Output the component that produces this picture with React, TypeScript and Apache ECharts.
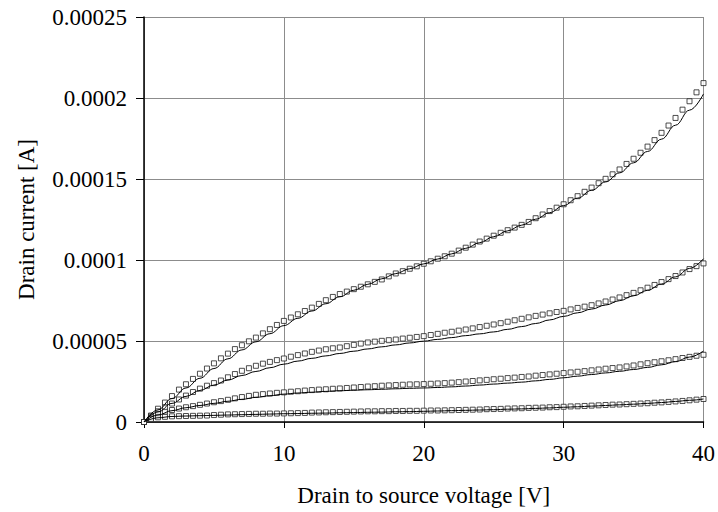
import React, { useEffect, useRef } from "react";
import * as echarts from "echarts";

// Drain-source voltage steps of the measured points [V]
const measuredVds = [
  0, 0.5, 1, 1.5, 2, 2.5, 3, 3.5, 4, 4.5, 5, 5.5, 6, 6.5, 7, 7.5, 8, 8.5, 9, 9.5,
  10, 10.5, 11, 11.5, 12, 12.5, 13, 13.5, 14, 14.5, 15, 15.5, 16, 16.5, 17, 17.5, 18, 18.5, 19, 19.5,
  20, 20.5, 21, 21.5, 22, 22.5, 23, 23.5, 24, 24.5, 25, 25.5, 26, 26.5, 27, 27.5, 28, 28.5, 29, 29.5,
  30, 30.5, 31, 31.5, 32, 32.5, 33, 33.5, 34, 34.5, 35, 35.5, 36, 36.5, 37, 37.5, 38, 38.5, 39, 39.5, 40,
];

// Measured drain currents [µA], highest curve first
const measured1 = [
  0, 4, 8.2, 12, 16, 20, 23.3, 26.6, 29.8, 33, 36.2, 39.3, 42.2, 45, 47.4, 49.8, 52.1, 54.7, 57.3, 59.9,
  62.4, 64.5, 66.5, 68.5, 70.6, 72.9, 75.2, 77.2, 79, 80.5, 82, 83.5, 85, 86.5, 88, 89.9, 91.7, 93.1, 94.6, 96.1,
  97.7, 99.2, 100.8, 102.3, 103.9, 105.8, 107.6, 109.5, 111.4, 113.2, 115, 116.8, 118.4, 120, 121.7, 123.5, 125.8, 128.1, 130.2, 132.3,
  134.4, 136.9, 139.4, 142.1, 144.7, 147.4, 150.1, 152.9, 155.9, 159.3, 162.5, 166.2, 170, 174, 178.5, 183, 187.7, 192.8, 198, 203.5, 209.2,
];
const measured2 = [
  0, 3.5, 6.6, 9, 11.4, 13.9, 16.3, 18.5, 20.6, 22.4, 24, 25.6, 27.6, 29.6, 31.6, 33.2, 34.7, 36, 37.1, 38.2,
  39.2, 40.3, 41.3, 42.3, 43.3, 44.1, 44.9, 45.5, 46, 46.8, 47.6, 48.4, 49.1, 49.6, 50.1, 50.5, 50.9, 51.5, 52, 52.5,
  53, 53.7, 54.4, 55.1, 55.7, 56.4, 57.1, 57.8, 58.6, 59.4, 60.2, 61, 61.9, 62.8, 63.7, 64.6, 65.5, 66.3, 67.1, 67.9,
  68.6, 69.5, 70.4, 71.2, 72.1, 73.2, 74.4, 75.6, 76.9, 78.3, 79.7, 81.3, 82.9, 84.6, 86.4, 88.2, 90.1, 92.3, 94.4, 96.2, 97.9,
];
const measured3 = [
  0, 2.7, 5, 6.3, 7.4, 8.3, 9.1, 9.8, 10.6, 11.4, 12.2, 12.9, 13.7, 14.6, 15.4, 16.1, 16.8, 17.2, 17.6, 18,
  18.3, 18.7, 19, 19.4, 19.7, 20, 20.2, 20.5, 20.7, 21, 21.3, 21.6, 21.9, 22.1, 22.4, 22.6, 22.8, 23, 23.2, 23.3,
  23.4, 23.6, 23.8, 24, 24.3, 24.6, 25, 25.3, 25.7, 26, 26.4, 26.7, 27.1, 27.4, 27.8, 28.1, 28.6, 29, 29.4, 29.8,
  30.2, 30.6, 31, 31.4, 31.9, 32.4, 32.9, 33.3, 33.7, 34.3, 34.9, 35.6, 36.3, 36.9, 37.5, 38.1, 38.8, 39.5, 40.2, 40.9, 41.5,
];
const measured4 = [
  0, 1.8, 2.9, 3.2, 3.5, 3.6, 3.7, 3.8, 3.9, 4, 4.3, 4.5, 4.7, 4.8, 4.9, 5, 5.1, 5.1, 5.2, 5.2,
  5.3, 5.4, 5.5, 5.6, 5.8, 5.9, 6, 6.1, 6.2, 6.3, 6.4, 6.5, 6.6, 6.6, 6.7, 6.7, 6.8, 6.8, 6.9, 6.9,
  7, 7.1, 7.1, 7.2, 7.3, 7.4, 7.5, 7.6, 7.7, 7.9, 8, 8.1, 8.3, 8.4, 8.5, 8.7, 8.8, 8.9, 9.1, 9.2,
  9.4, 9.6, 9.7, 9.9, 10.1, 10.3, 10.5, 10.7, 10.8, 11, 11.2, 11.4, 11.6, 11.9, 12.1, 12.4, 12.7, 13, 13.4, 13.8, 14.2,
];

// Model curve sample voltages [V]
const modelVds = [
  0, 1, 2, 3, 4, 5, 6, 7, 8, 9, 10, 11, 12, 13, 14, 15, 16, 17, 18, 19, 20,
  21, 22, 23, 24, 25, 26, 27, 28, 29, 30, 31, 32, 33, 34, 35, 36, 37, 38, 39, 40,
];

// Model drain currents [µA]
const model1 = [
  0, 7.5, 14.5, 21, 27, 33, 39, 44.5, 49.5, 54.5, 59.5, 64, 68.5, 73, 77.3, 81.3, 85, 88.4, 91.6, 94.6, 97.6,
  100.6, 103.8, 107.2, 110.7, 114.4, 118, 121.5, 125.2, 129.2, 133.6, 138.2, 143, 148.2, 153.8, 160, 167, 174.6, 183.2, 192.5, 202.5,
];
const model2 = [
  0, 6.2, 11.5, 15.8, 19.5, 22.8, 25.9, 28.7, 31.2, 33.5, 35.7, 37.6, 39.3, 40.8, 42.3, 43.7, 45.1, 46.4, 47.6, 48.8, 49.9,
  51, 52.1, 53.3, 54.4, 55.6, 57.2, 58.9, 60.8, 63, 65.2, 67.4, 69.7, 72.2, 74.9, 77.9, 81.3, 85.2, 89.6, 94.8, 100.8,
];
const model3 = [
  0, 4.3, 7, 8.8, 10.2, 11.5, 12.8, 14, 15.2, 16.2, 17.2, 17.9, 18.4, 18.9, 19.3, 19.6, 19.9, 20.2, 20.5, 20.8, 21,
  21.3, 21.7, 22.2, 22.8, 23.4, 24, 24.6, 25.4, 26.3, 27.3, 28.3, 29.3, 30.3, 31.3, 32.4, 33.7, 35.3, 37.3, 40.1, 43.8,
];
const model4 = [
  0, 2.6, 3.4, 3.7, 3.9, 4.1, 4.3, 4.5, 4.7, 4.9, 5.1, 5.2, 5.4, 5.5, 5.7, 5.8, 6, 6.1, 6.3, 6.4, 6.6,
  6.8, 7, 7.2, 7.4, 7.6, 7.9, 8.1, 8.4, 8.7, 9.1, 9.4, 9.8, 10.2, 10.6, 11, 11.5, 12, 12.7, 13.4, 14.2,
];

const yTickLabels = ["0", "0.00005", "0.0001", "0.00015", "0.0002", "0.00025"];

const MICRO = 1e-6;
const FONT = "'Liberation Serif', 'Times New Roman', serif";
const FONT_SIZE = 23;

const toPoints = (xs: number[], ys: number[]) => xs.map((x, i) => [x, ys[i] * MICRO]);

export default function App() {
  const ref = useRef<HTMLDivElement>(null);

  useEffect(() => {
    if (!ref.current) return;
    const chart = echarts.init(ref.current, null, { renderer: "svg" });

    const measuredSets = [measured1, measured2, measured3, measured4];
    const modelSets = [model1, model2, model3, model4];

    const modelSeries = modelSets.map((ys, i) => ({
      name: `Model ${i + 1}`,
      type: "line",
      data: toPoints(modelVds, ys),
      showSymbol: false,
      smooth: 0.4,
      smoothMonotone: "x",
      lineStyle: { color: "#000", width: 1 },
      z: 3,
    }));

    const measuredSeries = measuredSets.map((ys, i) => ({
      name: `Measured ${i + 1}`,
      type: "scatter",
      data: toPoints(measuredVds, ys),
      symbol: "rect",
      symbolSize: 5,
      itemStyle: { color: "#fff", borderColor: "#222", borderWidth: 1 },
      z: 2,
    }));

    chart.setOption({
      animation: false,
      backgroundColor: "#fff",
      grid: { left: 144, right: 13, top: 17, bottom: 89 },
      xAxis: {
        type: "value",
        min: 0,
        max: 40,
        interval: 10,
        name: "Drain to source voltage [V]",
        nameLocation: "middle",
        nameGap: 62,
        nameTextStyle: { fontFamily: FONT, fontSize: FONT_SIZE, color: "#000" },
        axisLine: { show: true, lineStyle: { color: "#000", width: 1.5 } },
        axisTick: { show: true, length: 6, lineStyle: { color: "#000" } },
        axisLabel: { fontFamily: FONT, fontSize: FONT_SIZE, color: "#000", margin: 20 },
        splitLine: { show: true, lineStyle: { color: "#8c8c8c", width: 1 } },
      },
      yAxis: {
        type: "value",
        min: 0,
        max: 0.00025,
        interval: 0.00005,
        name: "Drain current [A]",
        nameLocation: "middle",
        nameGap: 106,
        nameTextStyle: { fontFamily: FONT, fontSize: FONT_SIZE, color: "#000" },
        axisLine: { show: true, lineStyle: { color: "#000", width: 1.5 } },
        axisTick: { show: true, length: 8, lineStyle: { color: "#000" } },
        axisLabel: {
          fontFamily: FONT,
          fontSize: FONT_SIZE,
          color: "#000",
          margin: 17,
          formatter: (_v: number, idx: number) => yTickLabels[idx] ?? "",
        },
        splitLine: { show: true, lineStyle: { color: "#8c8c8c", width: 1 } },
      },
      series: [...measuredSeries, ...modelSeries],
    });

    return () => chart.dispose();
  }, []);

  return (
    <div
      ref={ref}
      style={{ position: "fixed", left: 0, top: 0, width: 718, height: 512 }}
    />
  );
}
